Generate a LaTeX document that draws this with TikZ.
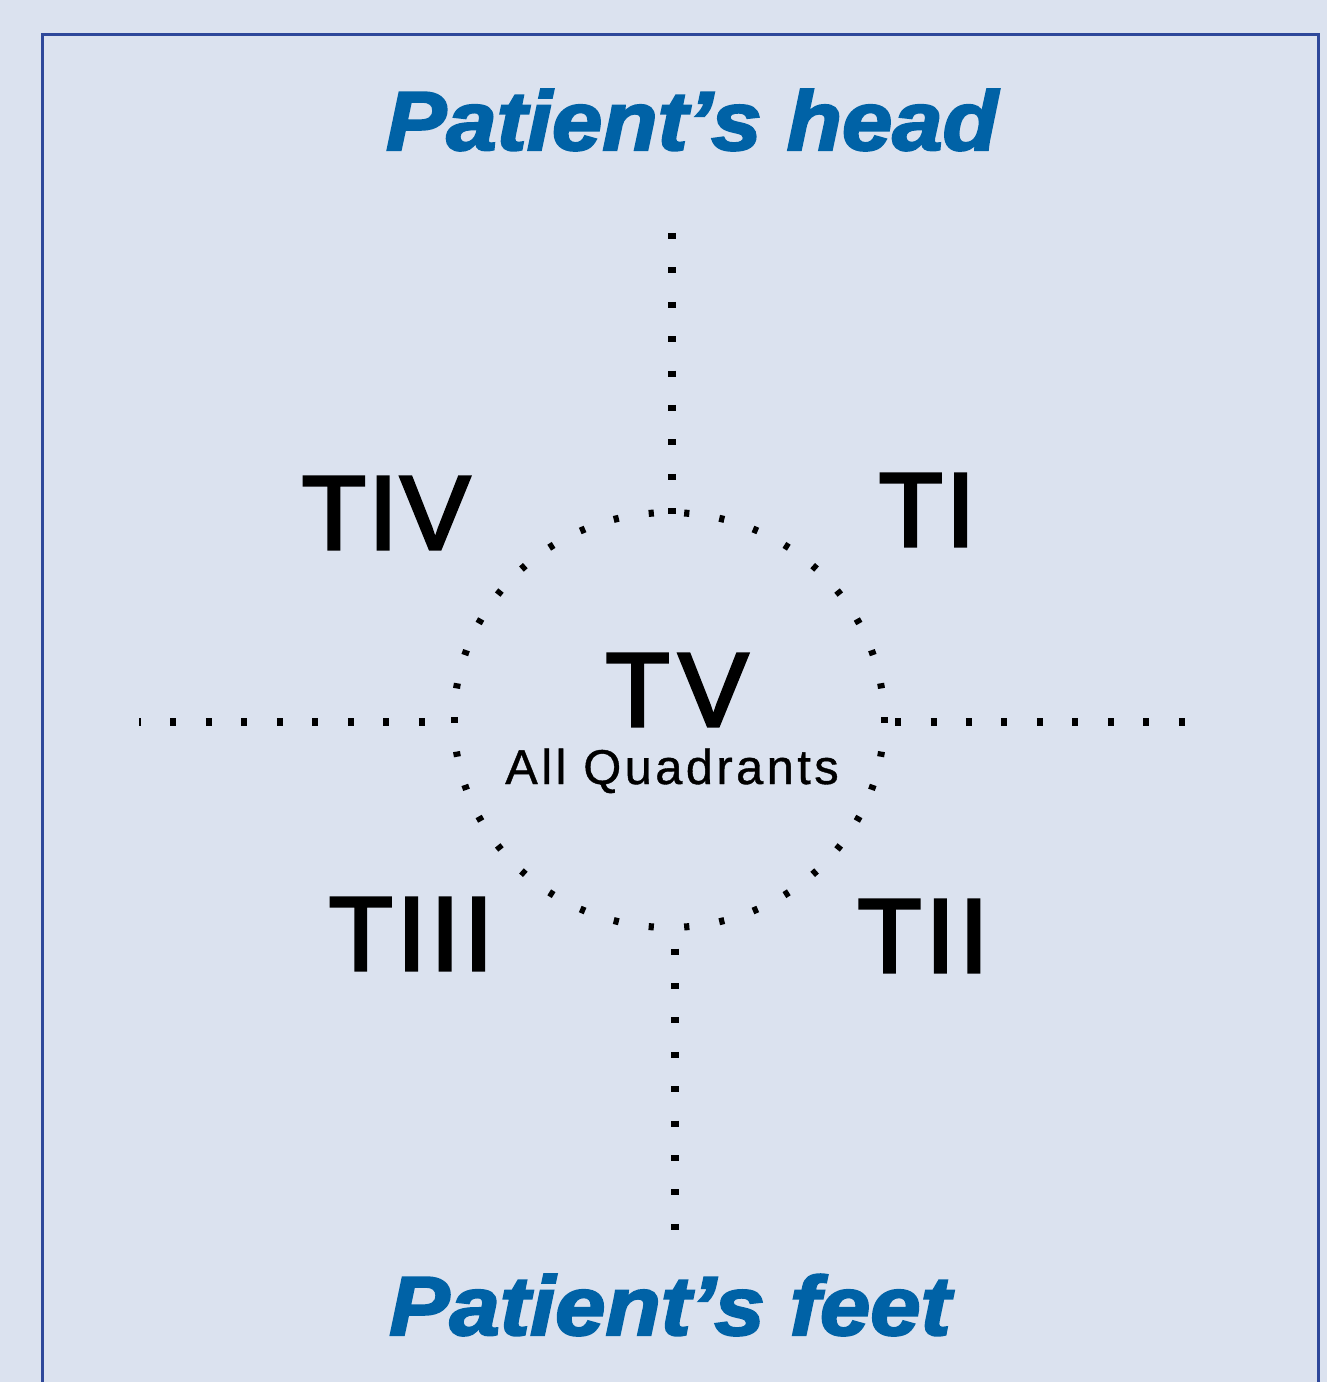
\documentclass[tikz,border=0pt]{standalone}
\usepackage{fontspec}
\setmainfont{Liberation Sans}
\newfontfamily\headfont[BoldItalicFeatures={FakeBold=2.5}]{Liberation Sans}
\newfontfamily\labfont[FakeBold=3]{Liberation Sans}
\newfontfamily\subfont[LetterSpace=7,FakeBold=0.8]{Liberation Sans}
\usetikzlibrary{calc}
\definecolor{bgc}{RGB}{219,226,239}
\definecolor{framec}{RGB}{46,72,154}
\definecolor{headc}{RGB}{0,98,166}
\begin{document}
\begin{tikzpicture}[x=0.02cm,y=-0.02cm,
  heading/.style={inner sep=0pt,anchor=base,text=headc,font=\headfont\bfseries\itshape\fontsize{47.7}{50}\selectfont},
  quad/.style={inner sep=0pt,anchor=base,font=\labfont\fontsize{59.6}{62}\selectfont},
  sublabel/.style={inner sep=0pt,anchor=base,font=\subfont\fontsize{27.8}{30}\selectfont},
  vdots/.style={line width=0.16cm,line cap=butt,dash pattern=on 0.12cm off 0.568cm},
  hdots/.style={line width=0.16cm,line cap=butt,dash pattern=on 0.12cm off 0.59cm},
  circdot/.style={line width=0.14cm,line cap=butt}]
\fill[bgc] (0,0) rectangle (1327,1382);
\useasboundingbox (0,0) rectangle (1327,1382);
\draw[framec,line width=0.06cm] (42,1400) -- (42,35) -- (1318,35) -- (1318,1400);

% headings
\node[heading] (head) at (692,150) {\scalebox{1.08}[1]{Patient’s head}};
\node[heading] (feet) at (670,1335) {\scalebox{1.08}[1]{Patient’s feet}};

% centre
\coordinate (C) at (669,720);
\foreach \k in {0,...,37}{
  \pgfmathsetmacro\a{\k*360/38}
  \pgfmathsetmacro\ux{-sin(\a)}
  \pgfmathsetmacro\uy{0.9651*cos(\a)}
  \pgfmathsetmacro\n{sqrt(\ux*\ux+\uy*\uy)}
  \pgfmathsetmacro\dx{2.6*\ux/\n}
  \pgfmathsetmacro\dy{2.6*\uy/\n}
  \draw[circdot,shift={(C)}] ({215*cos(\a)-\dx},{207.5*sin(\a)-\dy}) -- ({215*cos(\a)+\dx},{207.5*sin(\a)+\dy});
}

% axis dotted lines
\coordinate (t1) at (672,233);  \coordinate (t2) at (672,515);
\coordinate (b1) at (675,948.7); \coordinate (b2) at (675,1230);
\coordinate (l1) at (139,721.5); \coordinate (l2) at (424.5,721.5);
\coordinate (r1) at (895,721.5); \coordinate (r2) at (1185,721.5);
\draw[vdots] (t1) -- (t2);
\draw[vdots] (b1) -- (b2);
\draw[hdots,dash phase=0.08cm] (l1) -- (l2);
\draw[hdots] (r1) -- (r2);

% quadrant labels
\node[quad] (tiv) at (386,549) {T\kern1.5ptI\kern1.5ptV};
\node[quad] (ti) at (927,546) {T\kern2ptI};
\node[quad] (tiii) at (411,970) {T\kern2.5ptI\kern2.5ptI\kern2.5ptI};
\node[quad] (tii) at (923,972) {T\kern2.5ptI\kern2.5ptI};
\node[quad] (tv) at (677,726) {T\kern5ptV};
\node[sublabel] (all) at (672,784) {All Quadrants};
\end{tikzpicture}
\end{document}
